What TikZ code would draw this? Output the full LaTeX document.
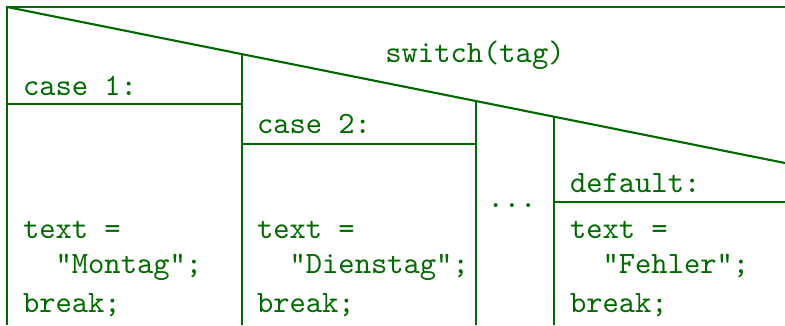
\documentclass[tikz,border=0pt]{standalone}
\usepackage{tikz}
\usetikzlibrary{calc}
\definecolor{nsgreen}{RGB}{0,105,0}

\begin{document}
\begin{tikzpicture}[x=0.332pt, y=-0.332pt, line width=0.7pt, draw=nsgreen,
    every node/.style={inner sep=0pt, font=\fontsize{10.3}{12}\ttfamily, text=nsgreen},
    nstext/.style={anchor=base west}]
    \useasboundingbox (0,0) rectangle (785,325);
    % frame corners
    \coordinate (tl) at (7,7);
    \coordinate (tr) at (785,7);
    \coordinate (dr) at (785,163);
    \coordinate (bl) at (7,325);
    % column tops on the diagonal
    \coordinate (c1) at ($(tl)!0.302!(dr)$);
    \coordinate (c2) at ($(tl)!0.603!(dr)$);
    \coordinate (c3) at ($(tl)!0.703!(dr)$);
    % case lines
    \coordinate (h1) at (7,104);
    \coordinate (h2) at (c1 |- 0,144);
    \coordinate (h3) at (c3 |- 0,202);
    \draw (bl) -- (tl) -- (tr);
    \draw (tl) -- (dr);
    \draw (c1) -- (c1 |- bl);
    \draw (c2) -- (c2 |- bl);
    \draw (c3) -- (c3 |- bl);
    \draw (h1) -- (h1 -| c1);
    \draw (h2) -- (h2 -| c2);
    \draw (h3) -- (h3 -| dr);

    \node[anchor=base] (switch) at (475,62) {switch(tag)};
    \node[nstext] (case1) at (22,95) {case 1:};
    \node[nstext] (case2) at (256,133) {case 2:};
    \node[nstext] (default) at (569,192) {default:};
    \node[anchor=base] (dots) at (512,207) {...};

    \node[nstext] (text1) at (22,238) {text =};
    \node[nstext] (val1) at (22,273) {\ \ "Montag";};
    \node[nstext] (break1) at (22,312) {break;};
    \node[nstext] (text2) at (256,238) {text =};
    \node[nstext] (val2) at (256,273) {\ \ "Dienstag";};
    \node[nstext] (break2) at (256,312) {break;};
    \node[nstext] (text3) at (569,238) {text =};
    \node[nstext] (val3) at (569,273) {\ \ "Fehler";};
    \node[nstext] (break3) at (569,312) {break;};
\end{tikzpicture}
\end{document}
